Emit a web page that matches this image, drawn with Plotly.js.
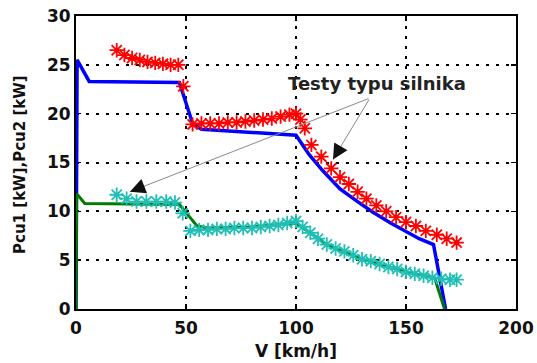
<!DOCTYPE html>
<html>
<head>
<meta charset="utf-8">
<script src="https://cdn.plot.ly/plotly-3.0.1.min.js"></script>
<style>html,body{margin:0;padding:0;background:#fff;}#chart{width:537px;height:363px;}</style>
</head>
<body>
<div id="chart"></div>
<script>
// Model curve Pcu1 (blue line)
const pcu1ModelV = [0, 0.5, 6, 47, 53, 57, 100, 106, 112, 120, 128, 135, 143, 150, 156, 162.5, 168];
const pcu1ModelP = [0, 25.5, 23.3, 23.2, 19.0, 18.4, 17.8, 15.8, 14.2, 12.3, 11.0, 9.9, 8.8, 7.9, 7.2, 6.6, 0];

// Model curve Pcu2 (green line)
const pcu2ModelV = [0, 0.3, 4, 47, 55, 60, 80, 95, 100, 107, 114, 122, 129, 137, 144, 152, 159, 163, 167.5];
const pcu2ModelP = [0, 11.8, 10.8, 10.7, 8.5, 8.3, 8.4, 8.7, 8.8, 7.7, 6.6, 5.8, 5.2, 4.6, 4.2, 3.7, 3.4, 3.2, 0];

// Test points Pcu1 (red stars)
const pcu1TestV = [18.5, 22, 25.5, 29, 32.5, 36, 39.5, 43, 46.5, 48.8,
  53, 57, 61, 65, 69, 73, 77, 81, 85, 89, 93, 97, 100, 102, 104,
  107, 111.5, 116, 120, 124, 128, 132, 136.5, 141, 145.5, 150, 154.5, 159, 164, 168.5, 173];
const pcu1TestP = [26.5, 26.0, 25.7, 25.5, 25.3, 25.2, 25.1, 25.0, 25.0, 22.8,
  18.9, 19.0, 19.0, 19.0, 19.1, 19.1, 19.2, 19.3, 19.4, 19.5, 19.7, 19.9, 20.0, 19.4, 18.5,
  16.8, 15.6, 14.4, 13.5, 12.8, 12.0, 11.3, 10.6, 10.0, 9.4, 8.9, 8.5, 8.0, 7.6, 7.2, 6.8];

// Test points Pcu2 (cyan stars)
const pcu2TestV = [18.5, 23, 27.5, 32, 36.5, 41, 45, 48.5,
  52, 56, 60, 64, 68, 72, 76, 80, 84, 88, 92, 96, 100,
  103, 106.5, 110, 114, 118, 122, 126, 130, 134, 138, 142, 146, 150, 154, 158, 162, 166, 170, 173];
const pcu2TestP = [11.7, 11.3, 11.0, 11.0, 11.0, 11.0, 10.9, 9.8,
  8.0, 8.1, 8.1, 8.2, 8.2, 8.3, 8.3, 8.3, 8.4, 8.5, 8.6, 8.8, 9.0,
  8.4, 7.8, 7.2, 6.6, 6.2, 5.9, 5.5, 5.1, 4.9, 4.6, 4.3, 4.1, 3.8, 3.6, 3.4, 3.2, 3.1, 3.0, 3.0];

const xTicks = [0, 50, 100, 150, 200];
const yTicks = [0, 5, 10, 15, 20, 25, 30];
const annotationText = 'Testy typu silnika';
const xTitle = 'V [km/h]';
const yTitle = 'Pcu1 [kW],Pcu2 [kW]';

// annotation geometry (data units): common tail and two arrow heads
const arrowTail = [133.6, 21.6];
const arrowHeads = [[116.8, 15.3], [24.5, 12.0]];

const FONT = 'DejaVu Sans, Liberation Sans, Arial, sans-serif';

const traces = [
  {x: pcu1ModelV, y: pcu1ModelP, mode: 'lines', line: {color: '#0000ff', width: 3.5}, hoverinfo: 'skip'},
  {x: pcu2ModelV, y: pcu2ModelP, mode: 'lines', line: {color: '#007a00', width: 3}, hoverinfo: 'skip'},
  {x: pcu1TestV, y: pcu1TestP, mode: 'markers',
   marker: {symbol: 'asterisk-open', size: 12, color: '#ff0000', line: {color: '#ff1010', width: 1.8}}},
  {x: pcu2TestV, y: pcu2TestP, mode: 'markers',
   marker: {symbol: 'asterisk-open', size: 12, color: '#1fbfb6', line: {color: '#1fbfb6', width: 1.8}}}
];

const axisCommon = {
  showline: true, mirror: 'ticks', linecolor: '#000', linewidth: 2,
  ticks: 'inside', ticklen: 5, tickcolor: '#000', tickwidth: 1.5,
  showgrid: true, gridcolor: '#000', gridwidth: 2, griddash: '3px,7px',
  zeroline: false, layer: 'below traces',
  tickfont: {family: FONT, size: 17, weight: 'bold', color: '#111'},
  automargin: false
};

const titleFont = {family: FONT, weight: 'bold', color: '#111'};

const annotations = [
  {x: 137, y: 23.1, xref: 'x', yref: 'y', text: annotationText, showarrow: false,
   font: {family: FONT, size: 18, weight: 'bold', color: '#222'}},
  // axis titles
  {x: 0.5, y: -0.143, xref: 'paper', yref: 'paper', xanchor: 'center', yanchor: 'middle',
   text: xTitle, showarrow: false, font: Object.assign({size: 17}, titleFont)},
  {x: -0.1273, y: 0.495, xref: 'paper', yref: 'paper', xanchor: 'center', yanchor: 'middle',
   text: yTitle, textangle: -90, showarrow: false, font: Object.assign({size: 15}, titleFont)}
];
// gray arrow shafts
arrowHeads.forEach(h => annotations.push({
  x: h[0], y: h[1], xref: 'x', yref: 'y', ax: arrowTail[0], ay: arrowTail[1], axref: 'x', ayref: 'y',
  text: '', showarrow: true, arrowhead: 0, arrowwidth: 1, arrowcolor: '#8a8a8a'
}));
// black arrow heads (short arrows along each shaft, offsets in pixels)
const headOffsets = [[7.2, -12.1], [13.0, -5.1]];
arrowHeads.forEach((h, i) => annotations.push({
  x: h[0], y: h[1], xref: 'x', yref: 'y', ax: headOffsets[i][0], ay: headOffsets[i][1],
  text: '', showarrow: true, arrowhead: 2, arrowsize: 2.2, arrowwidth: 1.4, arrowcolor: '#111'
}));

const layout = {
  width: 537, height: 363,
  margin: {l: 76, r: 21, t: 16, b: 54, pad: 0},
  paper_bgcolor: '#fff', plot_bgcolor: '#fff',
  showlegend: false,
  xaxis: Object.assign({}, axisCommon, {
    range: [0, 200], tickvals: xTicks, ticktext: xTicks.map(String), ticklabelstandoff: 3
  }),
  yaxis: Object.assign({}, axisCommon, {
    range: [0, 30], tickvals: yTicks, ticktext: yTicks.map(String)
  }),
  annotations: annotations
};

Plotly.newPlot('chart', traces, layout, {staticPlot: true, displayModeBar: false});
</script>
</body>
</html>
